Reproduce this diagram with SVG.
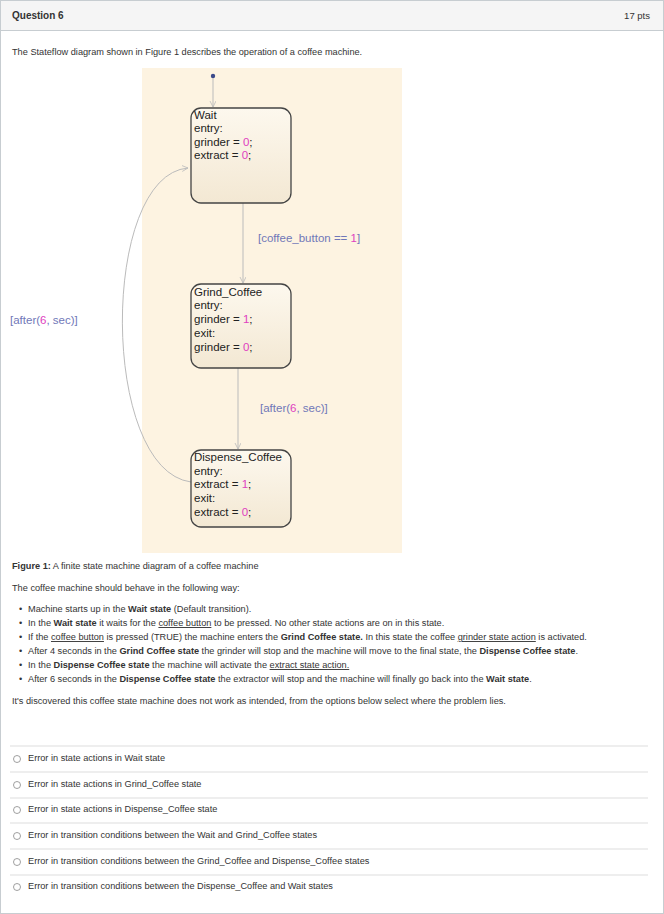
<svg xmlns="http://www.w3.org/2000/svg" width="664" height="914" viewBox="0 0 664 914">
<style>
text{font-family:"Liberation Sans",Arial,sans-serif;fill:#333}
.t{font-size:9.2px}
.b{font-weight:bold}
.s{font-size:11.5px;fill:#222}
.num{fill:#e040c0}
.lbl{font-size:11.5px;fill:#7077b8}
.st{fill:url(#g);stroke:#444;stroke-width:1.3}
.tr{fill:none;stroke:#bbb;stroke-width:1}
.sep{stroke:#ddd;stroke-width:1}
.opt{font-size:9.2px}
.rad{fill:#fff;stroke:#888;stroke-width:0.8}
</style>
<defs>
<linearGradient id="g" x1="0" y1="0" x2="0" y2="1"><stop offset="0" stop-color="#fdf8ee"/><stop offset="1" stop-color="#f3e8d3"/></linearGradient>
<marker id="ar" markerWidth="8" markerHeight="8" refX="6" refY="3" orient="auto"><path d="M0,0 L6,3 L0,6" fill="none" stroke="#bbb" stroke-width="0.8"/></marker>
</defs>
<rect x="0.5" y="0.5" width="663" height="913" fill="#fff" stroke="#c7cdd1"/>
<rect x="0.5" y="0.5" width="663" height="30" fill="#f5f5f5" stroke="#c7cdd1"/>
<text x="12" y="19" class="b" style="font-size:10px">Question 6</text>
<text x="650" y="19" style="font-size:9.5px" text-anchor="end">17 pts</text>
<text x="12" y="55" class="t">The Stateflow diagram shown in Figure 1 describes the operation of a coffee machine.</text>
<rect x="142" y="68" width="260" height="485" fill="#fdf3e1"/>
<g id="connectors">
<circle cx="213" cy="76" r="2.2" fill="#3b4a8a"/>
<path class="tr" d="M213,78 V107" marker-end="url(#ar)"/>
<path class="tr" d="M243,203 V283" marker-end="url(#ar)"/>
<path class="tr" d="M238,368 V449" marker-end="url(#ar)"/>
<path class="tr" d="M191,482 C100,470 100,175 188,168" marker-end="url(#ar)"/>
<text x="258" y="242" class="lbl">[coffee_button == <tspan class="num">1</tspan>]</text>
<text x="260" y="412" class="lbl">[after(<tspan class="num">6</tspan>, sec)]</text>
<text x="10" y="324" class="lbl">[after(<tspan class="num">6</tspan>, sec)]</text>
</g>
<g id="wait">
<rect class="st" x="191" y="108" width="100" height="95" rx="10"/>
<text x="194" y="119" class="s">Wait</text>
<text x="194" y="132" class="s">entry:</text>
<text x="194" y="146" class="s">grinder = <tspan class="num">0</tspan>;</text>
<text x="194" y="159" class="s">extract = <tspan class="num">0</tspan>;</text>
</g>
<g id="grind">
<rect class="st" x="191" y="284" width="100" height="84" rx="10"/>
<text x="194" y="296" class="s">Grind_Coffee</text>
<text x="194" y="309" class="s">entry:</text>
<text x="194" y="323" class="s">grinder = <tspan class="num">1</tspan>;</text>
<text x="194" y="337" class="s">exit:</text>
<text x="194" y="351" class="s">grinder = <tspan class="num">0</tspan>;</text>
</g>
<g id="dispense">
<rect class="st" x="191" y="450" width="100" height="77" rx="10"/>
<text x="194" y="461" class="s">Dispense_Coffee</text>
<text x="194" y="475" class="s">entry:</text>
<text x="194" y="488" class="s">extract = <tspan class="num">1</tspan>;</text>
<text x="194" y="502" class="s">exit:</text>
<text x="194" y="516" class="s">extract = <tspan class="num">0</tspan>;</text>
</g>
<text x="12" y="569" class="t"><tspan class="b">Figure 1:</tspan> A finite state machine diagram of a coffee machine</text>
<text x="12" y="591" class="t">The coffee machine should behave in the following way:</text>
<text x="19" y="612" class="t">•</text><text x="28" y="612" class="t">Machine starts up in the <tspan class="b">Wait state</tspan> (Default transition).</text>
<text x="19" y="626" class="t">•</text><text x="28" y="626" class="t">In the <tspan class="b">Wait state</tspan> it waits for the <tspan text-decoration="underline">coffee button</tspan> to be pressed. No other state actions are on in this state.</text>
<text x="19" y="640" class="t">•</text><text x="28" y="640" class="t">If the <tspan text-decoration="underline">coffee button</tspan> is pressed (TRUE) the machine enters the <tspan class="b">Grind Coffee state.</tspan> In this state the coffee <tspan text-decoration="underline">grinder state action</tspan> is activated.</text>
<text x="19" y="654" class="t">•</text><text x="28" y="654" class="t">After 4 seconds in the <tspan class="b">Grind Coffee state</tspan> the grinder will stop and the machine will move to the final state, the <tspan class="b">Dispense Coffee state</tspan>.</text>
<text x="19" y="668" class="t">•</text><text x="28" y="668" class="t">In the <tspan class="b">Dispense Coffee state</tspan> the machine will activate the <tspan text-decoration="underline">extract state action.</tspan></text>
<text x="19" y="682" class="t">•</text><text x="28" y="682" class="t">After 6 seconds in the <tspan class="b">Dispense Coffee state</tspan> the extractor will stop and the machine will finally go back into the <tspan class="b">Wait state</tspan>.</text>
<text x="12" y="704" class="t">It's discovered this coffee state machine does not work as intended, from the options below select where the problem lies.</text>
<line class="sep" x1="10" y1="746" x2="648" y2="746"/>
<line class="sep" x1="10" y1="772" x2="648" y2="772"/>
<line class="sep" x1="10" y1="798" x2="648" y2="798"/>
<line class="sep" x1="10" y1="823" x2="648" y2="823"/>
<line class="sep" x1="10" y1="849" x2="648" y2="849"/>
<line class="sep" x1="10" y1="875" x2="648" y2="875"/>
<g>
<circle class="rad" cx="17" cy="759" r="3.5"/><text x="28" y="761" class="opt">Error in state actions in Wait state</text>
<circle class="rad" cx="17" cy="785" r="3.5"/><text x="28" y="787" class="opt">Error in state actions in Grind_Coffee state</text>
<circle class="rad" cx="17" cy="810" r="3.5"/><text x="28" y="812" class="opt">Error in state actions in Dispense_Coffee state</text>
<circle class="rad" cx="17" cy="836" r="3.5"/><text x="28" y="838" class="opt">Error in transition conditions between the Wait and Grind_Coffee states</text>
<circle class="rad" cx="17" cy="862" r="3.5"/><text x="28" y="864" class="opt">Error in transition conditions between the Grind_Coffee and Dispense_Coffee states</text>
<circle class="rad" cx="17" cy="887" r="3.5"/><text x="28" y="889" class="opt">Error in transition conditions between the Dispense_Coffee and Wait states</text>
</g>
</svg>
